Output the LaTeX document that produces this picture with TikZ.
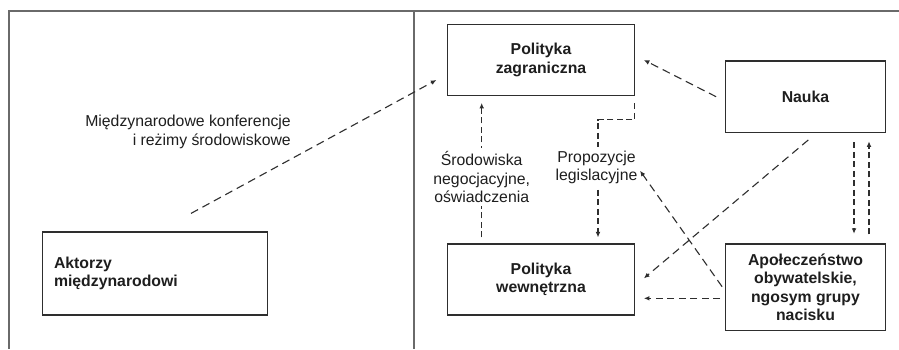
\documentclass[tikz,border=0pt]{standalone}
\usepackage{fontspec}
\setmainfont{Liberation Sans}
\usetikzlibrary{arrows.meta,calc}
\definecolor{boxgray}{HTML}{2E2E2E}
\definecolor{framegray}{HTML}{6A6A6A}
\definecolor{txt}{HTML}{1E1E1E}
\begin{document}
\begin{tikzpicture}[x=1pt,y=-1pt,
  box/.style={draw=boxgray,line width=1.2pt,inner sep=0pt,align=center,
    font=\fontsize{15.8}{18.6}\selectfont\bfseries,text=txt},
  lab/.style={inner sep=0pt,align=center,font=\fontsize{15.8}{18.6}\selectfont,text=txt},
  conn/.style={draw=boxgray,line width=1.1pt,dash pattern=on 6pt off 3.5pt,
    -{Latex[length=5.5pt,width=4.8pt]}},
  conndiag/.style={conn,dash pattern=on 8pt off 5pt}]
\useasboundingbox (0,0) rectangle (899,349);
\fill[white] (0,0) rectangle (899,349);
% frame
\draw[framegray,line width=1.5pt] (899,11) -- (9,11) -- (9,349);
\draw[framegray,line width=1.5pt] (414,11) -- (414,349);
% boxes
\node[box,minimum width=225pt,minimum height=83pt,text width=202pt,align=left] (akt) at (155,273.5)
  {Aktorzy\\międzynarodowi};
\node[box,minimum width=186.6pt,minimum height=71.4pt] (pz) at (541,60)
  {Polityka\\zagraniczna};
\node[box,minimum width=186.6pt,minimum height=71pt] (pw) at (541,279.5)
  {Polityka\\wewnętrzna};
\node[box,minimum width=160.4pt,minimum height=71.3pt] (nauka) at (805.5,96.7)
  {Nauka};
\node[box,minimum width=160.4pt,minimum height=86.3pt] (apol) at (805.5,287.2)
  {Apołeczeństwo\\obywatelskie,\\ngosym grupy\\nacisku};
% label 1
\node[lab,anchor=east,align=right] (lab1) at (291,132)
  {Międzynarodowe konferencje\\i reżimy środowiskowe};
% arrow 1
\draw[conndiag] ($(akt.north)+(36,-18)$) -- ($(pz.west)+(-10.7,20)$);
% arrow 2 (pw -> pz) with label
\draw[conn] ($(pw.north)+(-59.3,-6)$) -- ($(pz.south)+(-59.3,6.6)$);
\node[lab,fill=white,inner xsep=1pt,inner ysep=3pt] (lab2) at (481.7,177)
  {Środowiska\\negocjacyjne,\\oświadczenia};
% arrow 3 (pz -> pw) with label
\draw[conn] ($(pz.south east)+(0,7)$) -- ++(0,16.5) -| ($(pw.north)+(57,-6)$);
\node[lab,fill=white,inner xsep=1pt,inner ysep=4pt] (lab3) at (596.5,167.5)
  {Propozycje\\legislacyjne};
% arrow nauka -> pz
\draw[conndiag] ($(nauka.west)+(-8.6,0)$) -- ($(pz.east)+(9,0)$);
% arrow nauka -> pw
\draw[conndiag] ($(nauka.south)+(2.8,7)$) -- ($(pw.east)+(9,-1.2)$);
% arrow apol -> lab3
\draw[conndiag] ($(apol.west)+(-2.6,-0.5)$) -- ($(lab3.east)+(1.5,3.2)$);
% arrow apol -> pw
\draw[conn,dash pattern=on 7pt off 4.5pt] ($(apol.west)+(-4.6,11.1)$) -- ($(pw.east)+(9,18.8)$);
% arrows nauka <-> apol
\draw[conn] ($(nauka.south)+(48.5,9.4)$) -- ($(apol.north)+(48.5,-9.7)$);
\draw[conn] ($(apol.north)+(63.5,-9)$) -- ($(nauka.south)+(63.5,8.4)$);
\end{tikzpicture}
\end{document}
